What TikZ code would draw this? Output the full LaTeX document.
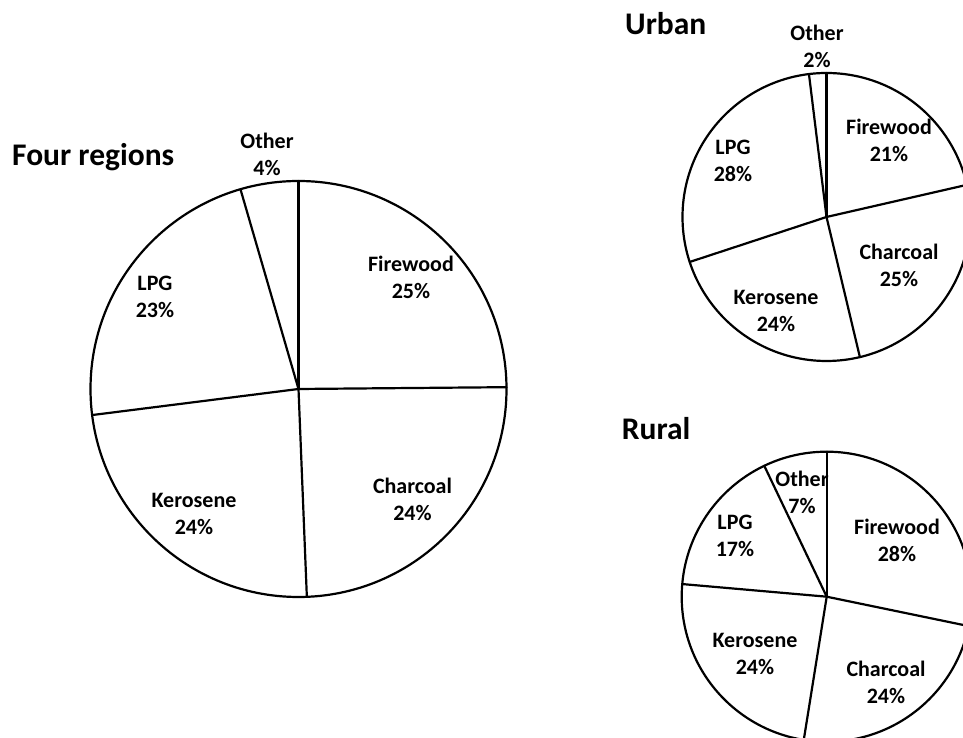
\documentclass[tikz,border=0pt]{standalone}
\usepackage{fontspec}
\setmainfont{Carlito}
\begin{document}
\begin{tikzpicture}[x=1pt,y=1pt,
  pieline/.style={line width=2.2pt, line cap=round, line join=round},
  lbl/.style={font=\bfseries\fontsize{22}{27}\selectfont, align=center, inner sep=0pt},
  ttl/.style={font=\bfseries\fontsize{31.5}{37}\selectfont, anchor=base west, inner sep=0pt}]
\useasboundingbox (0,0) rectangle (963,738);
\clip (0,0) rectangle (963,738);
% ---- Four regions ----
\coordinate (B) at (298.5,349);
\draw[pieline] (B) circle[radius=208];
\foreach \a in {90,0.5,-87.7,187.2,106.2} \draw[pieline] (B) -- ++(\a:208);
\node[ttl] (tB) at (12,572) {Four regions};
\node[lbl] (bOther) at (267,584) {Other\\4\%};
\node[lbl] (bFire) at (411,460.5) {Firewood\\25\%};
\node[lbl] (bLPG) at (155,441.5) {LPG\\23\%};
\node[lbl] (bKero) at (194,224) {Kerosene\\24\%};
\node[lbl] (bChar) at (412.5,238.5) {Charcoal\\24\%};
% ---- Urban ----
\coordinate (U) at (826.5,521);
\draw[pieline] (U) circle[radius=144];
\foreach \a in {90,97,12.9,-76.6,198.2} \draw[pieline] (U) -- ++(\a:144);
\node[ttl] (tU) at (625,703) {Urban};
\node[lbl] (uOther) at (817,692) {Other\\2\%};
\node[lbl] (uFire) at (889,597.5) {Firewood\\21\%};
\node[lbl] (uLPG) at (733,577.5) {LPG\\28\%};
\node[lbl] (uChar) at (899,472.5) {Charcoal\\25\%};
\node[lbl] (uKero) at (776,427) {Kerosene\\24\%};
% ---- Rural ----
\coordinate (R) at (826.7,141.3);
\draw[pieline] (R) circle[radius=145];
\foreach \a in {90,115.5,-11.7,-99.1,175} \draw[pieline] (R) -- ++(\a:145);
\node[ttl] (tR) at (621.7,298) {Rural};
\node[lbl] (rOther) at (802,246) {Other\\7\%};
\node[lbl] (rLPG) at (735,202) {LPG\\17\%};
\node[lbl] (rFire) at (897,198) {Firewood\\28\%};
\node[lbl] (rKero) at (755,84) {Kerosene\\24\%};
\node[lbl] (rChar) at (886,55.5) {Charcoal\\24\%};
\end{tikzpicture}
\end{document}
